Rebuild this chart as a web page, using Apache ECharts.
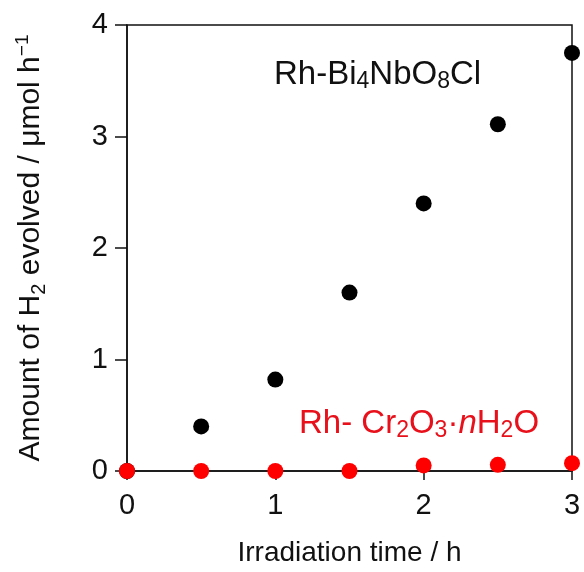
<!DOCTYPE html>
<html>
<head>
<meta charset="utf-8">
<script src="https://cdn.jsdelivr.net/npm/echarts@6/dist/echarts.min.js"></script>
<style>
  html, body { margin: 0; padding: 0; background: #fff; }
  #chart { width: 584px; height: 572px; }
</style>
</head>
<body>
<div id="chart"></div>
<script>
// Irradiation time (h)
const times = [0, 0.5, 1, 1.5, 2, 2.5, 3];
// H2 evolved (µmol h^-1)
const bi4nbo8cl = [0, 0.40, 0.82, 1.60, 2.40, 3.11, 3.75];
const cr2o3 = [0, 0, 0, 0, 0.05, 0.055, 0.07];
const xTicks = [0, 1, 2, 3];
const yTicks = [0, 1, 2, 3, 4];

const FONT = '"Liberation Sans", Arial, Helvetica, sans-serif';
const FS = 29;
const RED = '#e8101a';

const pairs = (ys) => times.map((t, i) => [t, ys[i]]);

const chart = echarts.init(document.getElementById('chart'), null, { renderer: 'canvas' });

chart.setOption({
  backgroundColor: '#fff',
  animation: false,
  grid: {
    left: 127, right: 12, top: 25, bottom: 101,
    show: true, borderColor: '#111', borderWidth: 1.5, backgroundColor: 'transparent'
  },
  xAxis: {
    type: 'value',
    min: xTicks[0], max: xTicks[xTicks.length - 1], interval: 1,
    name: 'Irradiation time / h',
    nameLocation: 'middle', nameGap: 68,
    nameTextStyle: { fontFamily: FONT, fontSize: 28, color: '#111' },
    axisLine: { show: true, onZero: false, lineStyle: { color: '#111', width: 1.5 } },
    axisTick: { show: true, inside: false, length: 9, lineStyle: { color: '#111', width: 1.5 } },
    axisLabel: { fontFamily: FONT, fontSize: FS, color: '#111', margin: 20 },
    splitLine: { show: false }
  },
  yAxis: {
    type: 'value',
    min: yTicks[0], max: yTicks[yTicks.length - 1], interval: 1,
    name: '{t|Amount of H}{s|2}{t| evolved / μmol h}{p|−1}',
    nameLocation: 'middle', nameRotate: 90, nameGap: 78,
    nameTextStyle: {
      fontFamily: FONT, fontSize: 30, color: '#111',
      rich: {
        t: { fontFamily: FONT, fontSize: 30, color: '#111', lineHeight: 36 },
        s: { fontFamily: FONT, fontSize: 20, color: '#111', lineHeight: 20, verticalAlign: 'bottom' },
        p: { fontFamily: FONT, fontSize: 19, color: '#111', lineHeight: 19, verticalAlign: 'top' }
      }
    },
    axisLine: { show: true, lineStyle: { color: '#111', width: 1.5 } },
    axisTick: { show: true, inside: false, length: 12, lineStyle: { color: '#111', width: 1.5 } },
    axisLabel: { fontFamily: FONT, fontSize: FS, color: '#111', margin: 19 },
    splitLine: { show: false }
  },
  series: [
    {
      name: 'Rh-Bi4NbO8Cl', type: 'scatter', clip: false,
      symbol: 'circle', symbolSize: 16,
      itemStyle: { color: '#000', opacity: 1 },
      data: pairs(bi4nbo8cl), z: 3
    },
    {
      name: 'Rh-Cr2O3·nH2O', type: 'scatter', clip: false,
      symbol: 'circle', symbolSize: 16,
      itemStyle: { color: '#ff0000', opacity: 1 },
      data: pairs(cr2o3), z: 4
    }
  ],
  graphic: [
    {
      type: 'text', left: 274, top: 58, z: 10,
      style: {
        text: '{t|Rh-Bi}{s|4}{t|NbO}{s|8}{t|Cl}',
        rich: {
          t: { fontFamily: FONT, fontSize: 33, fill: '#111', lineHeight: 38 },
          s: { fontFamily: FONT, fontSize: 23, fill: '#111', lineHeight: 23, verticalAlign: 'bottom' }
        }
      }
    },
    {
      type: 'text', left: 299, top: 407, z: 10,
      style: {
        text: '{t|Rh- Cr}{s|2}{t|O}{s|3}{t|·}{i|n}{t|H}{s|2}{t|O}',
        rich: {
          t: { fontFamily: FONT, fontSize: 33, fill: RED, lineHeight: 38 },
          i: { fontFamily: FONT, fontSize: 33, fontStyle: 'italic', fill: RED, lineHeight: 38 },
          s: { fontFamily: FONT, fontSize: 23, fill: RED, lineHeight: 23, verticalAlign: 'bottom' }
        }
      }
    }
  ]
});
</script>
</body>
</html>
